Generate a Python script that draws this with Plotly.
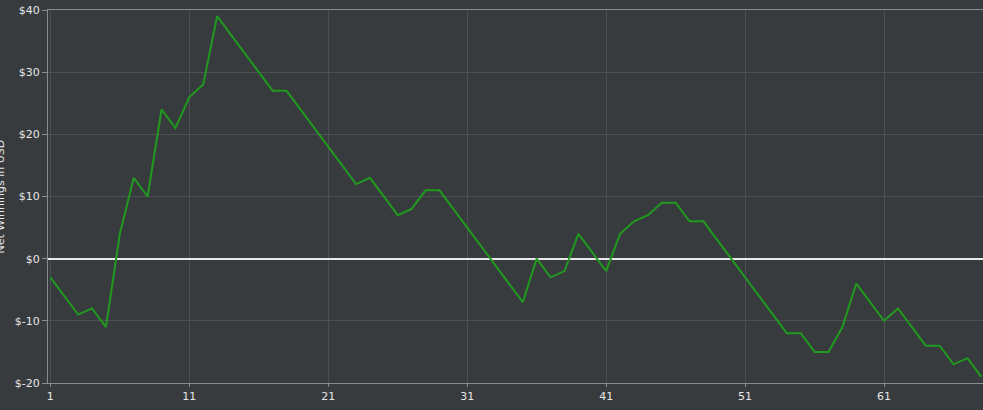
import plotly.graph_objects as go

hands = list(range(1, 69))
net_winnings = [
    -3, -6, -9, -8, -11, 4, 13, 10, 24, 21,
    26, 28, 39, 36, 33, 30, 27, 27, 24, 21,
    18, 15, 12, 13, 10, 7, 8, 11, 11, 8,
    5, 2, -1, -4, -7, 0, -3, -2, 4, 1,
    -2, 4, 6, 7, 9, 9, 6, 6, 3, 0,
    -3, -6, -9, -12, -12, -15, -15, -11, -4, -7,
    -10, -8, -11, -14, -14, -17, -16, -19,
]
y_ticks = [-20, -10, 0, 10, 20, 30, 40]
y_labels = ["$-20", "$-10", "$0", "$10", "$20", "$30", "$40"]
x_ticks = [1, 11, 21, 31, 41, 51, 61]

bg = "#383b3e"
grid = "#4d5053"
axis_col = "#8a8c8e"
font_col = "#e6e6e6"

fig = go.Figure()
fig.add_trace(go.Scatter(
    x=hands, y=net_winnings, mode="lines",
    line=dict(color="#1f9a1f", width=2),
    hoverinfo="x+y",
))

fig.update_layout(
    width=983, height=410,
    margin=dict(l=48, r=0, t=10, b=27),
    paper_bgcolor=bg, plot_bgcolor=bg,
    font=dict(family="DejaVu Sans", size=11, color=font_col),
    showlegend=False,
)
fig.update_xaxes(
    range=[0.83, 68.12],
    tickvals=x_ticks, ticktext=[str(v) for v in x_ticks],
    showgrid=True, gridcolor=grid, gridwidth=1,
    showline=True, linecolor=axis_col, linewidth=1, mirror=True,
    ticks="outside", ticklen=3, tickcolor=axis_col,
    zeroline=False,
)
fig.update_yaxes(
    range=[-20, 40],
    tickvals=y_ticks, ticktext=y_labels,
    showgrid=True, gridcolor=grid, gridwidth=1,
    showline=True, linecolor=axis_col, linewidth=1, mirror=True,
    ticks="outside", ticklen=5, tickcolor=axis_col,
    zeroline=True, zerolinecolor="#e8e8e8", zerolinewidth=2,
)
fig.add_annotation(
    text="Net Winnings in USD", textangle=-90,
    xref="paper", yref="paper", x=0, y=0.5,
    xanchor="center", yanchor="middle", xshift=-48,
    showarrow=False, font=dict(family="DejaVu Sans", size=11, color=font_col),
)

# drop the browser's default body margin so the chart sits at the page corner
fig.write_html(
    "out.html",
    config={"displayModeBar": False},
    post_script="document.body.style.margin='0';document.body.style.background='" + bg + "';",
)
